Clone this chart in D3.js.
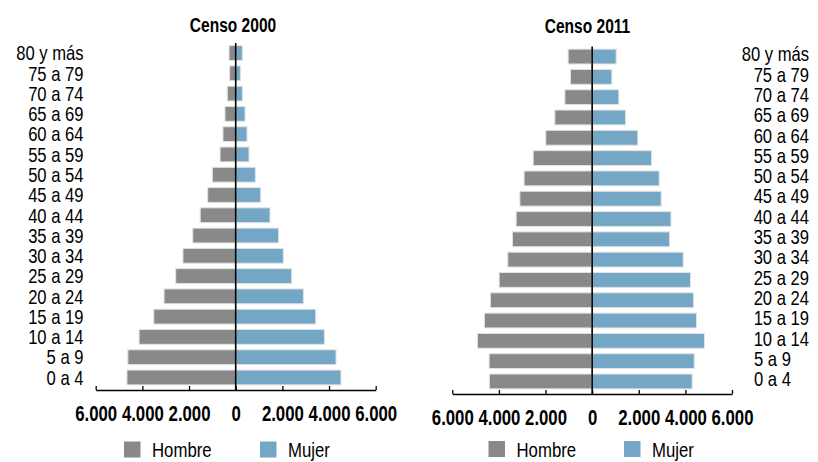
<!DOCTYPE html>
<html>
<head>
<meta charset="utf-8">
<script src="https://cdn.jsdelivr.net/npm/d3@7"></script>
<style>
  html, body { margin: 0; padding: 0; background: #fff; }
  svg { display: block; }
  text { font-family: "Liberation Sans", Arial, sans-serif; fill: #000; }
</style>
</head>
<body>
<svg id="chart" width="818" height="462"></svg>
<script>
// Age groups, youngest first
const ageGroups = ["0 a 4", "5 a 9", "10 a 14", "15 a 19", "20 a 24", "25 a 29", "30 a 34",
  "35 a 39", "40 a 44", "45 a 49", "50 a 54", "55 a 59", "60 a 64", "65 a 69", "70 a 74",
  "75 a 79", "80 y más"];

// Censo 2000 population by sex
const hombre2000 = [4660, 4620, 4140, 3510, 3070, 2570, 2260, 1840, 1520, 1200, 1000, 670, 545, 460, 360, 260, 285];
const mujer2000  = [4510, 4300, 3800, 3430, 2900, 2400, 2040, 1840, 1470, 1070, 840, 570, 485, 400, 285, 200, 285];

// Censo 2011 population by sex
const hombre2011 = [4410, 4420, 4920, 4620, 4365, 3990, 3620, 3420, 3260, 3100, 2920, 2530, 1990, 1600, 1170, 930, 1030];
const mujer2011  = [4290, 4380, 4820, 4475, 4350, 4220, 3905, 3320, 3380, 2960, 2875, 2545, 1960, 1430, 1145, 845, 1030];

const tickValues = [-6000, -4000, -2000, 0, 2000, 4000, 6000];
const seriesNames = ["Hombre", "Mujer"];
const colors = { Hombre: "#898989", Mujer: "#73a7c5" };

const svg = d3.select("#chart");
const fmt = v => v === 0 ? "0" : d3.format(",")(Math.abs(v)).replace(/,/g, ".");

// narrow-looking text: horizontally compressed glyphs placed at (x, y)
function narrowText(parent, x, y, str, size, squeeze, opts = {}) {
  return parent.append("text")
    .attr("transform", `translate(${x},${y}) scale(${squeeze},1)`)
    .attr("text-anchor", opts.anchor || "start")
    .style("font-size", size + "px")
    .style("font-weight", opts.bold ? "bold" : "normal")
    .text(str);
}

function pyramid(cfg) {
  const g = svg.append("g");
  const x = d3.scaleLinear().domain([-6000, 6000]).range([cfg.x0, cfg.x1]);
  const y = d3.scaleBand().domain(ageGroups.slice().reverse())
    .range([cfg.yTop, cfg.yBottom]).paddingInner(0.27).paddingOuter(0.13);

  const rows = ageGroups.map((a, i) => ({ age: a, h: cfg.hombre[i], m: cfg.mujer[i] }));

  // male bars to the left of zero
  g.selectAll("rect.h").data(rows).join("rect")
    .attr("class", "h")
    .attr("x", d => x(-d.h)).attr("width", d => x(0) - x(-d.h))
    .attr("y", d => y(d.age)).attr("height", y.bandwidth())
    .attr("fill", colors.Hombre).attr("stroke", "#e2e2e2").attr("stroke-width", 1);

  // female bars to the right of zero
  g.selectAll("rect.m").data(rows).join("rect")
    .attr("class", "m")
    .attr("x", x(0)).attr("width", d => x(d.m) - x(0))
    .attr("y", d => y(d.age)).attr("height", y.bandwidth())
    .attr("fill", colors.Mujer).attr("stroke", "#e2e2e2").attr("stroke-width", 1);

  // zero line
  g.append("line")
    .attr("x1", x(0)).attr("x2", x(0))
    .attr("y1", cfg.yTop).attr("y2", cfg.axisY)
    .attr("stroke", "#000").attr("stroke-width", 1.6);

  // horizontal axis with inward ticks
  const axis = g.append("g").attr("transform", `translate(0,${cfg.axisY})`)
    .call(d3.axisBottom(x).tickValues(tickValues).tickSize(-4).tickSizeOuter(0).tickFormat(fmt));
  axis.attr("font-family", null).attr("font-size", null);
  axis.select(".domain").attr("stroke", "#000").attr("stroke-width", 1.3);
  axis.selectAll(".tick line").attr("stroke", "#000").attr("stroke-width", 1.3);
  axis.selectAll(".tick text")
    .attr("y", null).attr("dy", null)
    .attr("transform", "translate(0,30.5) scale(0.78,1)")
    .style("font-size", "21.5px").style("font-weight", "bold")
    .attr("fill", "#000");

  // age labels
  const squeeze = 0.81;
  ageGroups.forEach(a => {
    const cy = y(a) + y.bandwidth() / 2 + cfg.labelDy + 7.3;
    if (cfg.labelSide === "left") {
      narrowText(g, cfg.labelX, cy, a, 20.5, squeeze, { anchor: "end" });
    } else {
      const t = narrowText(g, 0, cy, a, 20.5, squeeze);
      const w = t.node().getComputedTextLength() * squeeze;
      const lx = Math.min(cfg.labelX, cfg.labelMax - w);
      t.attr("transform", `translate(${lx},${cy}) scale(${squeeze},1)`);
    }
  });

  // title
  narrowText(g, cfg.titleX, cfg.titleY, cfg.title, 21, 0.74, { anchor: "middle", bold: true });

  // legend
  seriesNames.forEach((s, i) => {
    g.append("rect")
      .attr("x", cfg.legendX[i]).attr("y", cfg.legendY)
      .attr("width", 16.5).attr("height", 16)
      .attr("fill", colors[s]);
    narrowText(g, cfg.legendX[i] + 28, cfg.legendY + 15.5, s, 19.5, 0.86);
  });
}

pyramid({
  title: "Censo 2000", titleX: 233, titleY: 31.5,
  hombre: hombre2000, mujer: mujer2000,
  x0: 95.7, x1: 375.7, yTop: 43, yBottom: 387.5, axisY: 390,
  labelSide: "left", labelX: 83.5, labelDy: 0,
  legendX: [124, 260], legendY: 441.5
});

pyramid({
  title: "Censo 2011", titleX: 587.5, titleY: 33,
  hombre: hombre2011, mujer: mujer2011,
  x0: 452.3, x1: 732, yTop: 46.5, yBottom: 391.5, axisY: 394,
  labelSide: "right", labelX: 754, labelMax: 809, labelDy: -2.5,
  legendX: [488.5, 624], legendY: 441
});
</script>
</body>
</html>
